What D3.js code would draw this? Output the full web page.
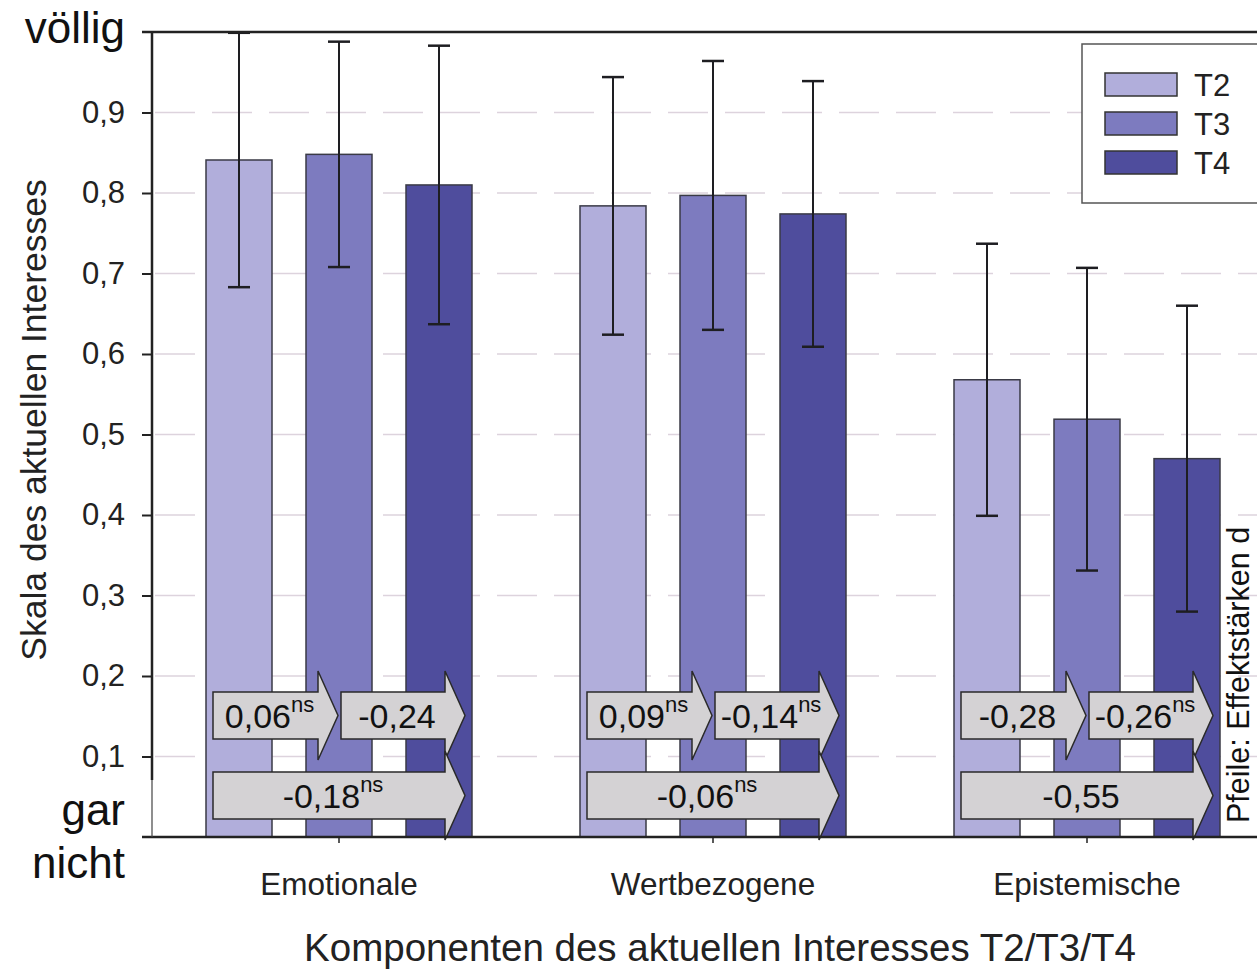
<!DOCTYPE html>
<html>
<head>
<meta charset="utf-8">
<script src="https://cdn.jsdelivr.net/npm/d3@7"></script>
<style>
  html, body { margin: 0; padding: 0; background: #fff; }
  svg { display: block; font-family: "Liberation Sans", Arial, sans-serif; }
</style>
</head>
<body>
<svg id="chart" width="1257" height="971"></svg>
<script>
// ---- data ----
const categories = ["Emotionale", "Wertbezogene", "Epistemische"];
const series = ["T2", "T3", "T4"];
const meansT2 = [0.841, 0.784, 0.568];
const meansT3 = [0.848, 0.797, 0.519];
const meansT4 = [0.810, 0.774, 0.470];
const sdT2 = [0.158, 0.160, 0.169];
const sdT3 = [0.140, 0.167, 0.188];
const sdT4 = [0.173, 0.165, 0.190];
const yTicks = [0.1, 0.2, 0.3, 0.4, 0.5, 0.6, 0.7, 0.8, 0.9];
// effect sizes (arrows)
const effT2T3 = [0.06, 0.09, -0.28];
const nsT2T3 = [true, true, false];
const effT3T4 = [-0.24, -0.14, -0.26];
const nsT3T4 = [false, true, true];
const effT2T4 = [-0.18, -0.06, -0.55];
const nsT2T4 = [true, true, false];

const means = [meansT2, meansT3, meansT4];
const sds = [sdT2, sdT3, sdT4];
const colors = ["#b1aedb", "#7d7bbf", "#4f4d9d"];

const svg = d3.select("#chart");
const FONT = '"Liberation Sans", Arial, sans-serif';

const y = d3.scaleLinear().domain([0, 1]).range([837, 32]);
const x0 = d3.scaleBand().domain(categories).range([152, 1274]).padding(0);
const x1 = d3.scaleBand().domain(series).range([37, 337]).paddingInner(0.34).paddingOuter(0.17);

const comma = v => d3.format(".2f")(v).replace(".", ",").replace("\u2212", "-");

// gridlines
svg.append("g").selectAll("line").data(yTicks).join("line")
  .attr("x1", 155).attr("x2", 1257)
  .attr("y1", d => y(d)).attr("y2", d => y(d))
  .attr("stroke", "#ddd3dd").attr("stroke-width", 1.5)
  .attr("stroke-dasharray", "40,17");

// bars
const groups = svg.append("g").selectAll("g").data(categories).join("g")
  .attr("transform", c => `translate(${x0(c)},0)`);

groups.each(function(c, ci) {
  const g = d3.select(this);
  series.forEach((s, si) => {
    const v = means[si][ci];
    g.append("rect")
      .attr("x", x1(s)).attr("width", x1.bandwidth())
      .attr("y", y(v)).attr("height", y(0) - y(v))
      .attr("fill", colors[si]).attr("stroke", "#3a3a46").attr("stroke-width", 1.5);
  });
  series.forEach((s, si) => {
    const v = means[si][ci], e = sds[si][ci];
    const cx = x1(s) + x1.bandwidth() / 2;
    g.append("line").attr("x1", cx).attr("x2", cx)
      .attr("y1", y(v + e)).attr("y2", y(v - e))
      .attr("stroke", "#1e1e22").attr("stroke-width", 2);
    [v + e, v - e].forEach(t => {
      g.append("line").attr("x1", cx - 11).attr("x2", cx + 11)
        .attr("y1", y(t)).attr("y2", y(t))
        .attr("stroke", "#1e1e22").attr("stroke-width", 2.5);
    });
  });
});

// arrows
function arrowPath(xl, xr, yt, yb, head, flare) {
  const xb = xr - head;
  const ym = (yt + yb) / 2;
  return `M${xl},${yt}L${xb},${yt}L${xb},${yt - flare}L${xr},${ym}L${xb},${yb + flare}L${xb},${yb}L${xl},${yb}Z`;
}
function drawArrow(g, xl, xr, yt, yb, val, ns) {
  g.append("path").attr("d", arrowPath(xl, xr, yt, yb, 20, 21))
    .attr("fill", "#d4d2d4").attr("stroke", "#2a2a2a").attr("stroke-width", 1.5)
    .attr("stroke-linejoin", "miter");
  const cx = (xl + xr - 20) / 2 + 4;
  const t = g.append("text").attr("x", cx).attr("y", (yt + yb) / 2 + 12.5)
    .attr("text-anchor", "middle").attr("font-size", 34).attr("fill", "#111")
    .style("font-family", FONT);
  t.append("tspan").text(comma(val));
  if (ns) t.append("tspan").attr("dy", -16).attr("font-size", 22).text("ns");
}
groups.each(function(c, ci) {
  const g = d3.select(this);
  const a = x1("T2") + 7;
  drawArrow(g, a, a + 125, 692, 739, effT2T3[ci], nsT2T3[ci]);
  drawArrow(g, a + 128, a + 252, 692, 739, effT3T4[ci], nsT3T4[ci]);
  drawArrow(g, a, a + 252, 772, 819, effT2T4[ci], nsT2T4[ci]);
});

// frame lines
svg.append("line").attr("x1", 142).attr("x2", 1257).attr("y1", y(1)).attr("y2", y(1))
  .attr("stroke", "#222").attr("stroke-width", 2.5);
svg.append("line").attr("x1", 142).attr("x2", 1257).attr("y1", y(0)).attr("y2", y(0))
  .attr("stroke", "#222").attr("stroke-width", 2.5);

// y axis
const yAxis = svg.append("g").attr("transform", "translate(152,0)")
  .call(d3.axisLeft(y).tickValues(yTicks).tickSize(10).tickPadding(17).tickFormat(d => d3.format(".1f")(d).replace(".", ",")));
yAxis.select(".domain").remove();
yAxis.selectAll(".tick line").attr("stroke", "#222").attr("stroke-width", 2);
yAxis.selectAll(".tick text").attr("font-size", 31).attr("fill", "#222").style("font-family", FONT);
svg.append("line").attr("x1", 152).attr("x2", 152).attr("y1", y(1)).attr("y2", 780)
  .attr("stroke", "#222").attr("stroke-width", 2.5);
svg.append("line").attr("x1", 152).attr("x2", 152).attr("y1", 780).attr("y2", y(0))
  .attr("stroke", "#444").attr("stroke-width", 1.2);

svg.append("text").attr("x", 125).attr("y", y(1) + 11).attr("text-anchor", "end")
  .attr("font-size", 44).attr("fill", "#111").style("font-family", FONT).text("völlig");
svg.append("text").attr("x", 125).attr("y", y(0) - 12).attr("text-anchor", "end")
  .attr("font-size", 44).attr("fill", "#111").style("font-family", FONT).text("gar");
svg.append("text").attr("x", 125).attr("y", y(0) + 41).attr("text-anchor", "end")
  .attr("font-size", 44).attr("fill", "#111").style("font-family", FONT).text("nicht");

// x axis
const xAxis = svg.append("g").attr("transform", `translate(0,${y(0)})`)
  .call(d3.axisBottom(x0).tickSize(6).tickPadding(30));
xAxis.select(".domain").remove();
xAxis.selectAll(".tick line").attr("stroke", "#222").attr("stroke-width", 1.5);
xAxis.selectAll(".tick text").attr("font-size", 31.5).attr("fill", "#222").style("font-family", FONT);

svg.append("text").attr("x", 720).attr("y", 961).attr("text-anchor", "middle")
  .attr("font-size", 38.5).attr("fill", "#222").style("font-family", FONT)
  .text("Komponenten des aktuellen Interesses T2/T3/T4");

svg.append("text").attr("transform", "translate(46,420) rotate(-90)").attr("text-anchor", "middle")
  .attr("font-size", 35.5).attr("fill", "#222").style("font-family", FONT)
  .text("Skala des aktuellen Interesses");

svg.append("text").attr("transform", "translate(1249,823) rotate(-90)").attr("text-anchor", "start")
  .attr("font-size", 30.5).attr("fill", "#111").style("font-family", FONT)
  .text("Pfeile: Effektstärken d");

// legend
const lg = svg.append("g");
lg.append("rect").attr("x", 1082).attr("y", 44).attr("width", 220).attr("height", 159)
  .attr("fill", "#fff").attr("stroke", "#555").attr("stroke-width", 1.5);
series.forEach((s, i) => {
  lg.append("rect").attr("x", 1105).attr("y", 73 + i * 39).attr("width", 72).attr("height", 23)
    .attr("fill", colors[i]).attr("stroke", "#333").attr("stroke-width", 1.5);
  lg.append("text").attr("x", 1194).attr("y", 96 + i * 39)
    .attr("font-size", 31).attr("fill", "#222").style("font-family", FONT).text(s);
});
</script>
</body>
</html>
